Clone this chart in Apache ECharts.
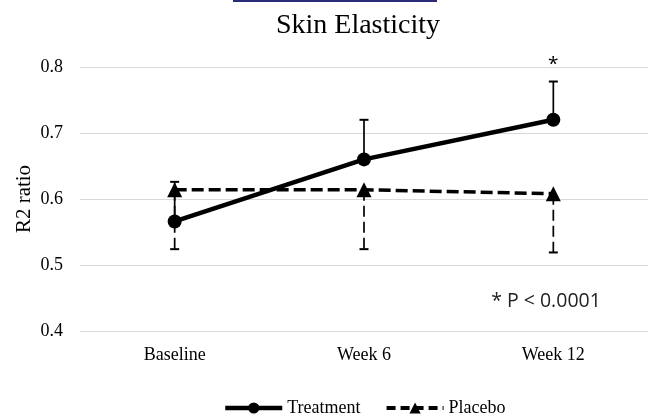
<!DOCTYPE html>
<html><head><meta charset="utf-8">
<script src="https://cdn.jsdelivr.net/npm/echarts@6/dist/echarts.min.js"></script>
<style>html,body{margin:0;padding:0;background:#fff}#c{width:651px;height:418px}</style>
</head><body><div id="c"></div>
<script>
var categories = ['Baseline', 'Week 6', 'Week 12'];
var treatmentMean = [0.566, 0.660, 0.720];
var treatmentUpper = [0.626, 0.720, 0.778];
var placeboMean = [0.614, 0.614, 0.608];
var placeboLower = [0.524, 0.524, 0.519];
var significance = ['', '', '*'];
var yTicks = [0.4, 0.5, 0.6, 0.7, 0.8];

var serif = '"Liberation Serif", "Times New Roman", serif';
var chart = echarts.init(document.getElementById('c'));

function errRender(dashed, marks) {
  return function (params, api) {
    var i = api.value(0);
    var from = api.coord([i, api.value(1)]);
    var to = api.coord([i, api.value(2)]);
    var style = { stroke: '#000', lineWidth: 1.7, lineDash: dashed ? [11, 5] : null };
    var children = [
      { type: 'line', shape: { x1: from[0], y1: from[1], x2: to[0], y2: to[1] }, style: style },
      { type: 'line', shape: { x1: to[0] - 4.5, y1: to[1], x2: to[0] + 4.5, y2: to[1] }, style: { stroke: '#000', lineWidth: 2 } }
    ];
    if (marks && marks[i]) {
      children.push({ type: 'text', x: to[0], y: to[1] - 17, style: { text: marks[i], fill: '#000', font: '19px "Open Sans", sans-serif', align: 'center', verticalAlign: 'middle' } });
    }
    return { type: 'group', children: children };
  };
}

var option = {
  animation: false,
  backgroundColor: '#fff',
  title: {
    text: 'Skin Elasticity', left: 353, top: 7, textAlign: 'center',
    textStyle: { fontFamily: serif, fontSize: 28, fontWeight: 'normal', color: '#000' }
  },
  graphic: [
    { type: 'rect', shape: { x: 233, y: 0, width: 204, height: 2 }, style: { fill: '#2b2a78' } },
    { type: 'text', x: 546, y: 301, style: { text: '* P < 0.0001', fill: '#222', font: '19.5px "Open Sans", sans-serif', align: 'center', verticalAlign: 'middle' } }
  ],
  legend: {
    top: 394, left: 218, itemWidth: 57, itemHeight: 14, itemGap: 24,
    textStyle: { fontFamily: serif, fontSize: 18, color: '#000' },
    data: [
      { name: 'Treatment', lineStyle: { width: 4.5 } },
      { name: 'Placebo', lineStyle: { width: 4, type: [9, 5] } }
    ]
  },
  grid: { left: 80, right: 3, top: 67, bottom: 87 },
  xAxis: {
    type: 'category', data: categories, boundaryGap: true,
    axisLine: { show: false }, axisTick: { show: false },
    axisLabel: { fontFamily: serif, fontSize: 18, color: '#000', margin: 15 }
  },
  yAxis: {
    type: 'value', min: yTicks[0], max: yTicks[yTicks.length - 1], interval: 0.1,
    name: 'R2 ratio', nameLocation: 'middle', nameGap: 45, nameRotate: 90, nameMoveOverlap: false,
    nameTextStyle: { fontFamily: serif, fontSize: 21, color: '#000' },
    axisLine: { show: false }, axisTick: { show: false },
    axisLabel: { fontFamily: serif, fontSize: 18, color: '#000', margin: 17, formatter: function (v) { return v.toFixed(1); } },
    splitLine: { lineStyle: { color: '#d9d9d9', width: 1.2 } }
  },
  series: [
    {
      name: 'Placebo', type: 'line', data: placeboMean, z: 2,
      symbol: 'triangle', symbolSize: 15,
      lineStyle: { color: '#000', width: 3.5, type: [12, 5] },
      itemStyle: { color: '#000' }
    },
    {
      type: 'custom', z: 1, silent: true,
      data: categories.map(function (c, i) { return [i, placeboMean[i], placeboLower[i]]; }),
      renderItem: errRender(true, null)
    },
    {
      type: 'custom', z: 3, silent: true,
      data: categories.map(function (c, i) { return [i, treatmentMean[i], treatmentUpper[i]]; }),
      renderItem: errRender(false, significance)
    },
    {
      name: 'Treatment', type: 'line', data: treatmentMean, z: 4,
      symbol: 'circle', symbolSize: 14,
      lineStyle: { color: '#000', width: 4.5 },
      itemStyle: { color: '#000' }
    }
  ]
};
chart.setOption(option);
</script></body></html>
